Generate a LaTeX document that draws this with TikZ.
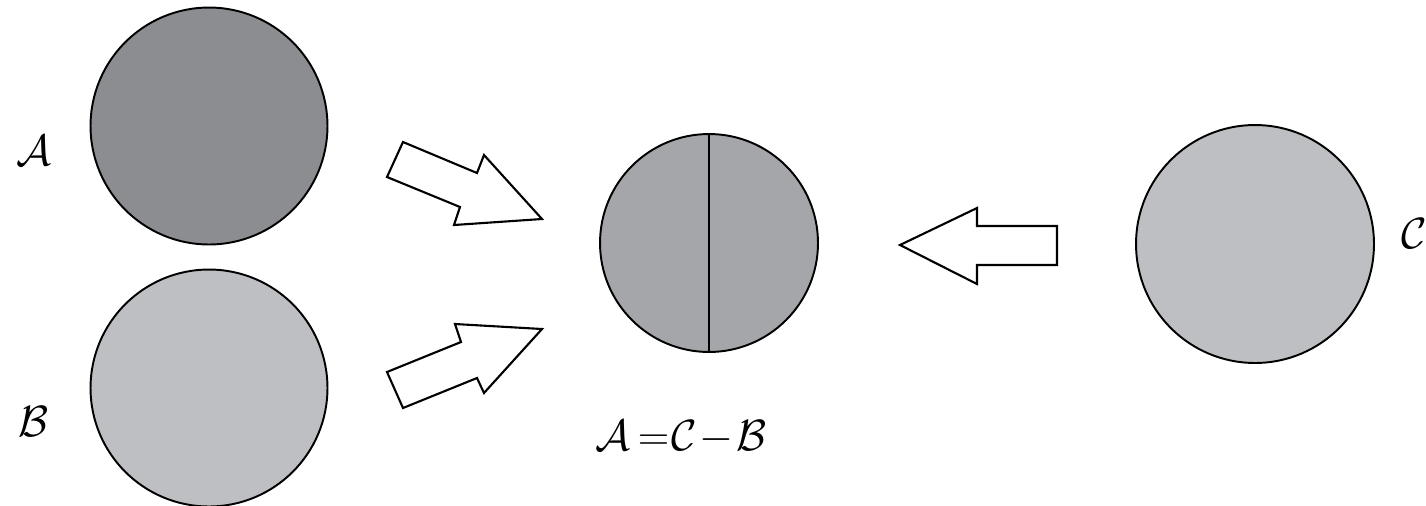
\documentclass[tikz,border=0pt]{standalone}
\usepackage{amsmath,amssymb}
\usepackage{xcolor}
\usetikzlibrary{positioning, calc}

\definecolor{setdark}{RGB}{140,141,144}
\definecolor{setmid}{RGB}{165,166,170}
\definecolor{setlight}{RGB}{190,191,194}

\begin{document}
\begin{tikzpicture}[x=0.02cm, y=-0.02cm,
    disk/.style={circle, draw=black, line width=1.1pt, inner sep=0pt},
    blockarrow/.style={draw=black, line width=1.2pt, fill=white, line join=miter},
    setlabel/.style={font=\fontsize{31}{35}\selectfont}]
            % Frame
            \useasboundingbox (0,0) rectangle (1426,505);

            % Left sets
            \node[disk, fill=setdark, minimum size=4.74cm] (A) at (209,126) {};
            \node[disk, fill=setlight, minimum size=4.74cm] (B) at (209,388) {};
            \node[setlabel] (Alab) at (34,151) {$\mathcal{A}$};
            \node[setlabel] (Blab) at (34,422) {$\mathcal{B}$};

            % Middle set split in two halves
            \node[disk, fill=setmid, minimum size=4.36cm] (M) at (709,243) {};
            \draw[line width=1.1pt] (M.north) -- (M.south);
            \node[setlabel] (Mlab) at (681,437)
                {$\mathcal{A}\mkern3mu{=}\mkern1mu\mathcal{C}\mkern1mu{-}\mkern1mu\mathcal{B}$};

            % Right set
            \node[setlabel] (Clab) at (1414,234) {$\mathcal{C}$};
            \node[disk, fill=setlight, minimum size=4.76cm] (C) at (1255,244) {};

            % Block arrows
            \draw[blockarrow] (403,142) -- (477,173) -- (484,155) -- (542,219)
                -- (454,225) -- (460,207) -- (387,177) -- cycle;
            \draw[blockarrow] (387,372) -- (461,342) -- (455,324) -- (542,329)
                -- (484,393) -- (477,378) -- (403,408) -- cycle;
            \draw[blockarrow] (900,245) -- (977,208) -- (977,226) -- (1057,226)
                -- (1057,265) -- (977,265) -- (977,284) -- cycle;
\end{tikzpicture}
\end{document}
